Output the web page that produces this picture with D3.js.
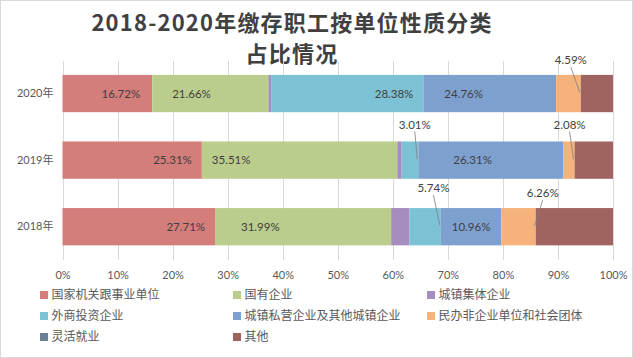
<!DOCTYPE html>
<html>
<head>
<meta charset="utf-8">
<script src="https://cdn.jsdelivr.net/npm/d3@7"></script>
<style>
  html, body { margin: 0; padding: 0; background: #fff; }
  svg { display: block; }
</style>
</head>
<body>
<svg id="chart" width="633" height="358"></svg>
<script>
// ---------- data ----------
const years = ["2020年", "2019年", "2018年"];            // top to bottom
const seriesNames = ["国家机关跟事业单位", "国有企业", "城镇集体企业", "外商投资企业",
  "城镇私营企业及其他城镇企业", "民办非企业单位和社会团体", "灵活就业", "其他"];
// values per series, in the order of `years` (2020, 2019, 2018)
const vStateOrgans   = [16.72, 25.31, 27.71];
const vStateOwned    = [21.66, 35.51, 31.99];
const vCollective    = [0.5, 0.8, 3.3];
const vForeign       = [28.38, 3.01, 5.74];
const vPrivate       = [24.76, 26.31, 10.96];
const vNonProfit     = [4.59, 2.08, 6.26];
const vFlexible      = [0, 0, 0];
const vOther         = [6.0, 6.98, 14.04];
const seriesValues = [vStateOrgans, vStateOwned, vCollective, vForeign, vPrivate, vNonProfit, vFlexible, vOther];
const xTicks = [0, 0.1, 0.2, 0.3, 0.4, 0.5, 0.6, 0.7, 0.8, 0.9, 1.0];
const titleLines = ["2018-2020年缴存职工按单位性质分类", "占比情况"];

// ---------- styling / layout ----------
const colors = ["#D47E7C", "#BBCD8C", "#A68DBF", "#7DC2D4", "#7EA0CF", "#F5B27A", "#6B8096", "#A06460"];
// label placement per [series index][year index]: mode + pixel offsets
const labelPlacement = {
  0: [{m: "end", p: 12}, {m: "end", p: 10}, {m: "end", p: 10}],
  1: [{m: "start", p: 20}, {m: "start", p: 10}, {m: "start", p: 26}],
  3: [{m: "end", p: 10}, {m: "callout", dx: -3.5, dy: -17}, {m: "callout", dx: -7.5, dy: -20}],
  4: [{m: "start", p: 21}, {m: "start", p: 35}, {m: "center"}],
  5: [{m: "callout", dx: -10, dy: -15}, {m: "callout", dx: -5, dy: -17}, {m: "callout", dx: 7, dy: -15}]
};

const W = 633, H = 358;
const svg = d3.select("#chart");
const labelFont = "Lato, 'Noto Sans CJK SC', sans-serif";
const cjkFont = "'Noto Sans CJK SC', sans-serif";

svg.append("rect").attr("x", 0.5).attr("y", 0.5).attr("width", W - 1).attr("height", H - 1)
  .attr("fill", "#fff").attr("stroke", "#D9D9D9");

// title
svg.append("g").selectAll("text").data(titleLines).join("text")
  .attr("x", 292).attr("y", (d, i) => 31 + i * 31)
  .attr("text-anchor", "middle")
  .attr("font-family", cjkFont).attr("font-weight", "bold").attr("font-size", 22)
  .attr("letter-spacing", 1.2)
  .attr("fill", "#404040").text(d => d);

// scales
const x = d3.scaleLinear().domain([0, 1]).range([62.5, 613]);
const y = d3.scaleBand().domain(years).range([60.25, 260]).paddingInner(0.44).paddingOuter(0.22);

// gridlines
svg.append("g").selectAll("line").data(xTicks).join("line")
  .attr("x1", d => Math.round(x(d)) + 0.5).attr("x2", d => Math.round(x(d)) + 0.5)
  .attr("y1", 61).attr("y2", 260)
  .attr("stroke", "#D9D9D9").attr("stroke-width", 1);

// stack
const rows = years.map((yr, i) => {
  const o = {year: yr};
  seriesNames.forEach((s, k) => { o[s] = seriesValues[k][i]; });
  return o;
});
const stack = d3.stack().keys(seriesNames).offset(d3.stackOffsetExpand);
const stacked = stack(rows);

const gBars = svg.append("g");
stacked.forEach((layer, k) => {
  gBars.append("g").attr("fill", colors[k]).selectAll("rect").data(layer).join("rect")
    .attr("x", d => x(d[0]))
    .attr("y", d => y(d.data.year))
    .attr("width", d => Math.max(0, x(d[1]) - x(d[0])))
    .attr("height", y.bandwidth());
});

// data labels
const gLab = svg.append("g");
Object.keys(labelPlacement).forEach(key => {
  const k = +key;
  const layer = stacked[k];
  layer.forEach((d, i) => {
    const pl = labelPlacement[k][i];
    const val = seriesValues[k][i];
    const txt = val.toFixed(2) + "%";
    const x0 = x(d[0]), x1 = x(d[1]);
    const yTop = y(d.data.year), yMid = yTop + y.bandwidth() / 2;
    let tx, anchor = "middle", ty = yMid;
    if (pl.m === "end") { tx = x1 - pl.p; anchor = "end"; }
    else if (pl.m === "start") { tx = x0 + pl.p; anchor = "start"; }
    else if (pl.m === "center") { tx = (x0 + x1) / 2; }
    else {
      tx = x1 + pl.dx; ty = yTop + pl.dy;
      gLab.append("line")
        .attr("x1", tx).attr("y1", ty + 7)
        .attr("x2", x1 - 1).attr("y2", yMid - 1)
        .attr("stroke", "#7F7F7F").attr("stroke-width", 0.8);
    }
    gLab.append("text").attr("x", tx).attr("y", ty).attr("dy", "0.35em")
      .attr("text-anchor", anchor)
      .attr("font-family", labelFont).attr("font-size", 11.5)
      .attr("fill", "#404040").text(txt);
  });
});

// axes
const xAxis = d3.axisBottom(x).tickValues(xTicks).tickFormat(d3.format(".0%")).tickSize(0).tickPadding(11);
const gx = svg.append("g").attr("transform", "translate(0,260)").call(xAxis);
gx.select(".domain").remove();
gx.selectAll("text").attr("font-family", labelFont).attr("font-size", 11).attr("fill", "#595959");

const yAxis = d3.axisLeft(y).tickSize(0).tickPadding(9);
const gy = svg.append("g").attr("transform", "translate(62.5,0)").call(yAxis);
gy.select(".domain").remove();
gy.selectAll("text").attr("font-family", labelFont).attr("font-size", 11).attr("fill", "#595959");

// legend
const legendCols = [40, 233, 427];
const legendRows = [295, 316, 337];
const gLeg = svg.append("g");
seriesNames.forEach((s, k) => {
  const cx = legendCols[k % 3], cy = legendRows[Math.floor(k / 3)];
  gLeg.append("rect").attr("x", cx).attr("y", cy - 4).attr("width", 8).attr("height", 8).attr("fill", colors[k]);
  gLeg.append("text").attr("x", cx + 11.5).attr("y", cy).attr("dy", "0.36em")
    .attr("font-family", cjkFont).attr("font-size", 12).attr("fill", "#595959").text(s);
});
</script>
</body>
</html>
